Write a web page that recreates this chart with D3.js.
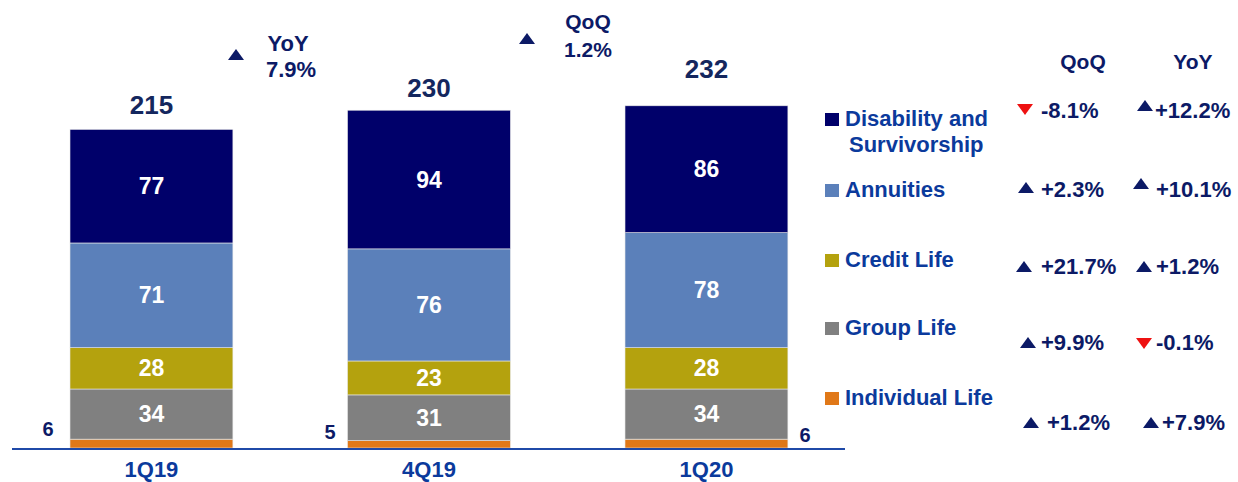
<!DOCTYPE html>
<html>
<head>
<meta charset="utf-8">
<script src="https://cdn.jsdelivr.net/npm/d3@7"></script>
<style>
  body { margin: 0; background: #fff; }
  text { font-family: "Liberation Sans", Arial, sans-serif; font-weight: bold; }
</style>
</head>
<body>
<svg id="chart" width="1238" height="482"></svg>
<script>
const categories = ["1Q19", "4Q19", "1Q20"];
const seriesNames = ["Individual Life", "Group Life", "Credit Life", "Annuities", "Disability and Survivorship"];
const individualLife = [6, 5, 6];
const groupLife = [34, 31, 34];
const creditLife = [28, 23, 28];
const annuities = [71, 76, 78];
const disability = [77, 94, 86];
const totals = [215, 230, 232];
const qoq = ["+1.2%", "+9.9%", "+21.7%", "+2.3%", "-8.1%"];
const yoy = ["+7.9%", "-0.1%", "+1.2%", "+10.1%", "+12.2%"];
const colors = ["#e07818", "#808080", "#b4a20e", "#5b80ba", "#00006a"];

const navy = "#0c1a66", blue = "#0b3a9c";
const svg = d3.select("#chart");

const rows = categories.map((c, i) => ({
  cat: c,
  "Individual Life": individualLife[i],
  "Group Life": groupLife[i],
  "Credit Life": creditLife[i],
  "Annuities": annuities[i],
  "Disability and Survivorship": disability[i]
}));
const stack = d3.stack().keys(seriesNames)(rows);

const x = d3.scaleBand().domain(categories).range([14.5, 843.4]).paddingInner(0.413).paddingOuter(0.2);
const y = d3.scaleLinear().domain([0, 240]).range([448, 448 - 354]);

// bars
const layers = svg.append("g").selectAll("g").data(stack).join("g").attr("fill", (d, i) => colors[i]);
layers.selectAll("rect").data(d => d).join("rect")
  .attr("x", d => x(d.data.cat))
  .attr("width", x.bandwidth())
  .attr("y", d => y(d[1]))
  .attr("height", d => y(d[0]) - y(d[1]))
  .attr("stroke", "#e8e8e8").attr("stroke-width", 0.6);

// segment labels (individual life drawn beside the bars)
stack.slice(1).forEach(layer => {
  svg.append("g").selectAll("text").data(layer).join("text")
    .attr("x", d => x(d.data.cat) + x.bandwidth() / 2)
    .attr("y", d => (y(d[0]) + y(d[1])) / 2 + 8)
    .attr("text-anchor", "middle").attr("fill", "#fff").attr("font-size", 23)
    .text(d => d[1] - d[0]);
});

const sideX = [48, 330, 805];
const sideY = [436, 439, 442];
svg.append("g").selectAll("text").data(individualLife).join("text")
  .attr("x", (d, i) => sideX[i]).attr("y", (d, i) => sideY[i])
  .attr("text-anchor", "middle").attr("fill", navy).attr("font-size", 20)
  .text(d => d);

// totals
const totalGap = [17, 12, 28];
svg.append("g").selectAll("text").data(totals).join("text")
  .attr("x", (d, i) => x(categories[i]) + x.bandwidth() / 2)
  .attr("y", (d, i) => y(d) - totalGap[i])
  .attr("text-anchor", "middle").attr("fill", "#14275e").attr("font-size", 26)
  .text(d => d);

// axis
const axis = svg.append("g").attr("transform", "translate(0,449)")
  .call(d3.axisBottom(x).tickSize(0).tickPadding(12));
axis.select(".domain").attr("stroke", "#1f4aa8").attr("stroke-width", 2).attr("d", "M12,0H845");
axis.selectAll("text").attr("fill", blue).attr("font-size", 22)
  .style("font-family", "'Liberation Sans', Arial, sans-serif").style("font-weight", "bold");

// triangle: left x, top y
const tri = (lx, ty, down, color) => svg.append("path")
  .attr("d", down ? `M${lx},${ty}L${lx + 16},${ty}L${lx + 8},${ty + 11}Z`
                  : `M${lx},${ty + 11}L${lx + 16},${ty + 11}L${lx + 8},${ty}Z`)
  .attr("fill", color);

// growth annotations
tri(228, 49, false, navy);
svg.append("text").attr("x", 288).attr("y", 51).attr("text-anchor", "middle").attr("fill", navy).attr("font-size", 22).text("YoY");
svg.append("text").attr("x", 291).attr("y", 77).attr("text-anchor", "middle").attr("fill", navy).attr("font-size", 22).text("7.9%");
tri(519, 33, false, navy);
svg.append("text").attr("x", 588).attr("y", 29).attr("text-anchor", "middle").attr("fill", navy).attr("font-size", 21).text("QoQ");
svg.append("text").attr("x", 588).attr("y", 57).attr("text-anchor", "middle").attr("fill", navy).attr("font-size", 21).text("1.2%");

// legend
const legendY = [126, 197, 267, 335, 405];
const legendNames = ["Individual Life", "Group Life", "Credit Life", "Annuities", "Disability and"];
const leg = svg.append("g");
seriesNames.forEach((s, i) => {
  const ly = legendY[4 - i];
  leg.append("rect").attr("x", 825).attr("y", ly - 13).attr("width", 14).attr("height", 13).attr("fill", colors[i]);
  leg.append("text").attr("x", 845).attr("y", ly).attr("fill", blue).attr("font-size", 22).text(legendNames[i]);
});
leg.append("text").attr("x", 849).attr("y", 152).attr("fill", blue).attr("font-size", 22).text("Survivorship");

// QoQ / YoY table
svg.append("text").attr("x", 1083).attr("y", 69).attr("text-anchor", "middle").attr("fill", navy).attr("font-size", 21).text("QoQ");
svg.append("text").attr("x", 1193).attr("y", 69).attr("text-anchor", "middle").attr("fill", navy).attr("font-size", 21).text("YoY");
// [triangle x, triangle top, text x, baseline]
const qoqPos = [[1023, 417, 1047, 430], [1020, 337, 1041, 350], [1016, 261, 1041, 274], [1018, 182, 1041, 197], [1017, 104, 1041, 118]];
const yoyPos = [[1143, 417, 1162, 430], [1136, 338, 1156, 350], [1136, 261, 1156, 274], [1133, 178, 1156, 197], [1137, 100, 1155, 118]];
const drawVal = (v, p) => {
  const down = v.startsWith("-");
  tri(p[0], p[1], down, down ? "#ee1111" : navy);
  svg.append("text").attr("x", p[2]).attr("y", p[3]).attr("fill", navy).attr("font-size", 22).text(v);
};
qoq.forEach((v, i) => drawVal(v, qoqPos[i]));
yoy.forEach((v, i) => drawVal(v, yoyPos[i]));
</script>
</body>
</html>
